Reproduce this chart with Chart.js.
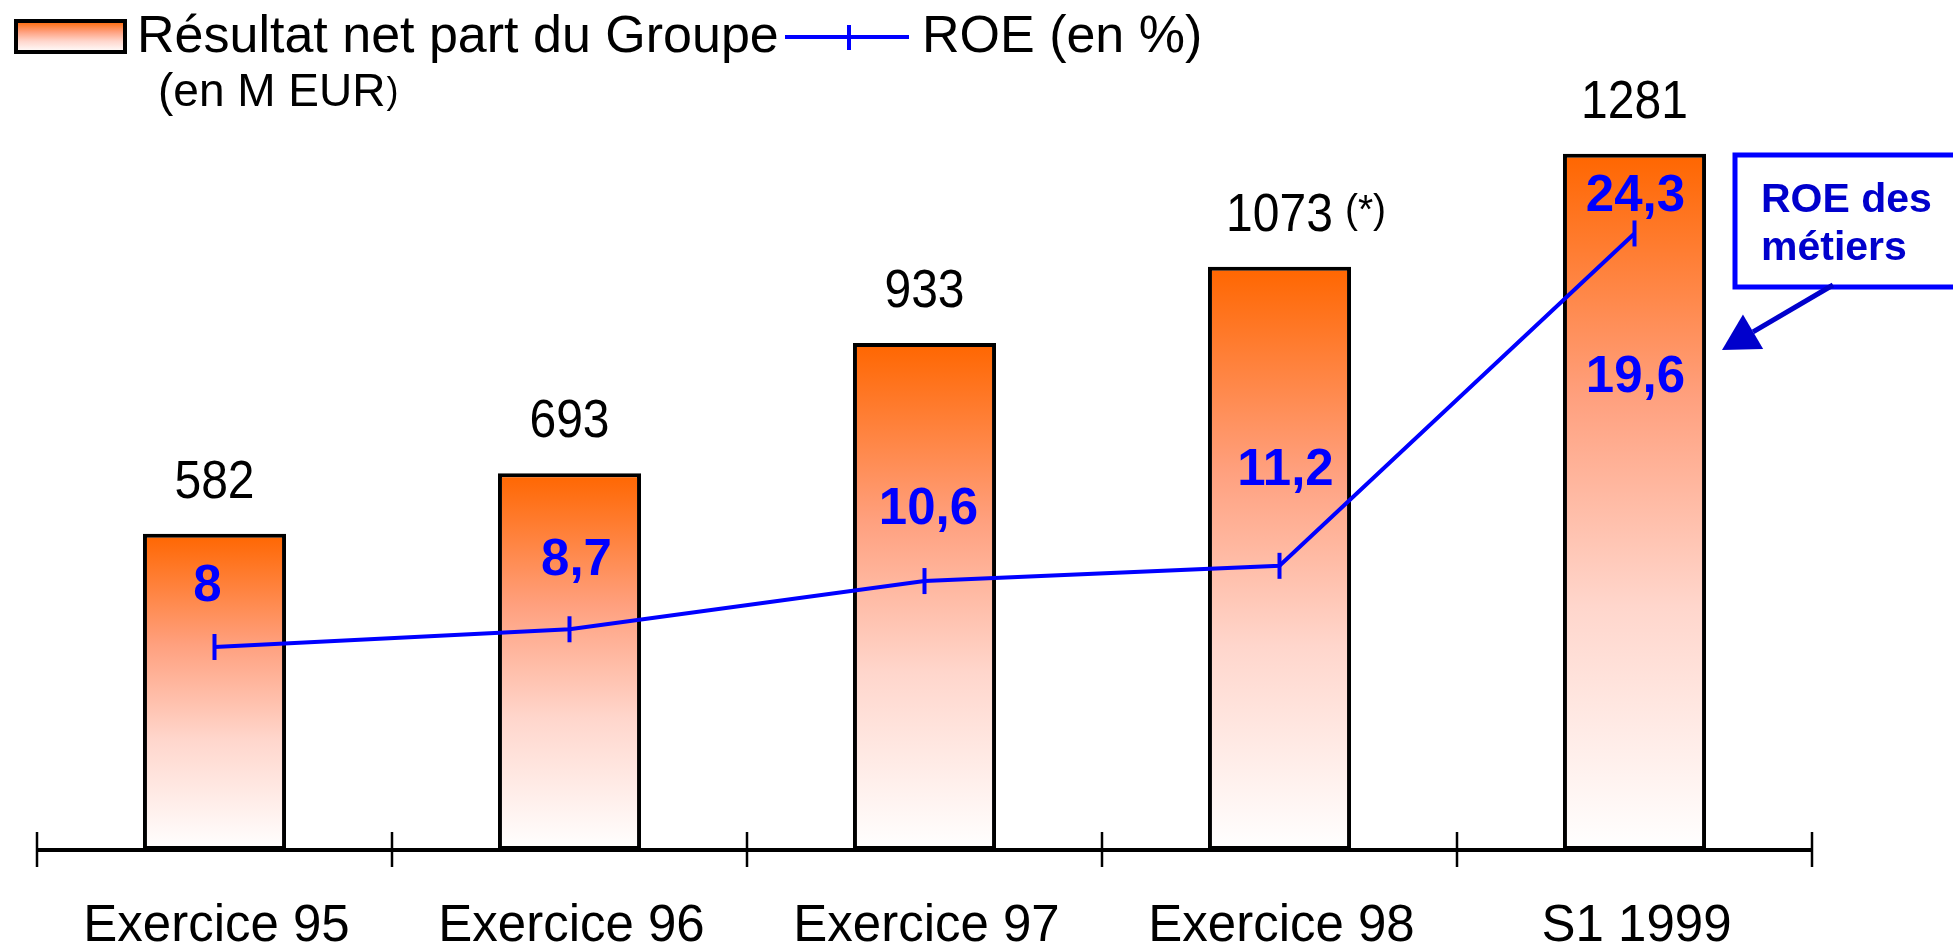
<!DOCTYPE html>
<html lang="fr">
<head>
<meta charset="utf-8">
<title>Résultat net part du Groupe et ROE</title>
<script src="https://cdn.jsdelivr.net/npm/chart.js@4.4.1/dist/chart.umd.min.js"></script>
<style>
    html, body { margin: 0; padding: 0; background: #fff; }
    #wrap { width: 1953px; height: 947px; }
</style>
</head>
<body>
<div id="wrap"><canvas id="chart" width="1953" height="947"></canvas></div>
<script>
// Data
const categories = ["Exercice 95", "Exercice 96", "Exercice 97", "Exercice 98", "S1 1999"];
const resultatNet = [582, 693, 933, 1073, 1281];   // M EUR
const roe = [8, 8.7, 10.6, 11.2, 24.3];              // %
const resultatNotes = ["", "", "", "(*)", ""];
const roeMetiers = 19.6;                             // ROE des métiers, S1 1999

// label placement around each ROE point (px)
const roeLabelShift = [[-7, -60], [7, -68], [4, -71], [6, -95], [1, -37]];

const FONT = "'Liberation Sans', Arial, sans-serif";
const BLUE = "#0000ff";
const DARK_BLUE = "#0000cc";

const fmt = v => String(v).replace(".", ",");

function fillGradient(ctx, top, bottom){
    const g = ctx.createLinearGradient(0, top, 0, bottom);
    g.addColorStop(0, "#ff6600");
    g.addColorStop(0.35, "#ffa07e");
    g.addColorStop(0.65, "#ffd6cc");
    g.addColorStop(1, "#ffffff");
    return g;
}

function barGradient(context){
    const chart = context.chart;
    if(!chart.chartArea || context.type !== "data") return "#ff9966";
    const y = chart.scales.y;
    return fillGradient(chart.ctx, y.getPixelForValue(resultatNet[context.dataIndex]), y.getPixelForValue(0));
}

// text a bit taller than wide, like the original
function tallText(ctx, txt, x, y, sy){
    ctx.save();
    ctx.translate(x, y);
    ctx.scale(1, sy);
    ctx.fillText(txt, 0, 0);
    ctx.restore();
}

// Axis, labels, legend and callout
const decorations = {
    id: "decorations",
    afterDatasetsDraw(chart){
        const ctx = chart.ctx;
        const xs = chart.scales.x;
        const ys = chart.scales.y;
        const y2 = chart.scales.y2;
        const base = ys.getPixelForValue(0);
        const half = (xs.getPixelForValue(1) - xs.getPixelForValue(0)) / 2;

        ctx.save();

        // x axis line and ticks
        ctx.strokeStyle = "#000";
        ctx.lineWidth = 4;
        ctx.beginPath();
        ctx.moveTo(xs.getPixelForValue(0) - half, base);
        ctx.lineTo(xs.getPixelForValue(categories.length - 1) + half, base);
        ctx.stroke();
        ctx.lineWidth = 2.5;
        for(let i = 0; i <= categories.length; i++){
            const x = xs.getPixelForValue(0) - half + i * 2 * half;
            ctx.beginPath();
            ctx.moveTo(x, base - 18);
            ctx.lineTo(x, base + 17);
            ctx.stroke();
        }

        // category labels
        ctx.fillStyle = "#000";
        ctx.font = "51px " + FONT;
        ctx.textAlign = "center";
        ctx.textBaseline = "alphabetic";
        categories.forEach((c, i) => tallText(ctx, c, xs.getPixelForValue(i) + 2, 941, 1.03));

        // bar values
        resultatNet.forEach((v, i) => {
            const x = xs.getPixelForValue(i);
            const yb = ys.getPixelForValue(v) - 36;
            ctx.font = "48px " + FONT;
            ctx.textAlign = "center";
            tallText(ctx, String(v), x, yb, 1.1);
            if(resultatNotes[i]){
                const w = ctx.measureText(String(v)).width;
                ctx.font = "39px " + FONT;
                ctx.textAlign = "left";
                tallText(ctx, resultatNotes[i], x + w / 2 + 12, yb - 8, 1.05);
            }
        });

        // ROE values
        ctx.fillStyle = BLUE;
        ctx.font = "bold 51px " + FONT;
        ctx.textAlign = "center";
        ctx.textBaseline = "middle";
        roe.forEach((v, i) => {
            const [dx, dy] = roeLabelShift[i];
            ctx.fillText(fmt(v), xs.getPixelForValue(i) + dx, y2.getPixelForValue(v) + dy);
        });
        const last = categories.length - 1;
        ctx.fillText(fmt(roeMetiers), xs.getPixelForValue(last) + 1, y2.getPixelForValue(roeMetiers) + 25);

        // legend
        ctx.textBaseline = "alphabetic";
        ctx.textAlign = "left";
        ctx.fillStyle = fillGradient(ctx, 21, 52);
        ctx.fillRect(16, 21, 109, 31);
        ctx.strokeStyle = "#000";
        ctx.lineWidth = 4;
        ctx.strokeRect(16, 21, 109, 31);
        ctx.fillStyle = "#000";
        ctx.font = "52px " + FONT;
        ctx.fillText("Résultat net part du Groupe", 137, 52);
        ctx.font = "46px " + FONT;
        ctx.fillText("(en M EUR", 158, 106);
        const wEur = ctx.measureText("(en M EUR").width;
        ctx.font = "36px " + FONT;
        ctx.fillText(")", 158 + wEur + 1, 103);

        ctx.strokeStyle = BLUE;
        ctx.lineWidth = 4;
        ctx.beginPath();
        ctx.moveTo(785, 37);
        ctx.lineTo(909, 37);
        ctx.moveTo(849, 25);
        ctx.lineTo(849, 50);
        ctx.stroke();
        ctx.font = "52px " + FONT;
        ctx.fillText("ROE (en %)", 922, 52);

        // callout "ROE des métiers"
        ctx.strokeStyle = BLUE;
        ctx.lineWidth = 5;
        ctx.strokeRect(1735, 155, 240, 132);
        ctx.fillStyle = DARK_BLUE;
        ctx.font = "bold 41px " + FONT;
        ctx.fillText("ROE des", 1761, 212);
        ctx.fillText("métiers", 1761, 260);

        const tip = [1722, 350];
        const from = [1833, 285];
        const ang = Math.atan2(tip[1] - from[1], tip[0] - from[0]);
        const len = 36, hw = 20;
        const bx = tip[0] - len * Math.cos(ang), by = tip[1] - len * Math.sin(ang);
        ctx.strokeStyle = DARK_BLUE;
        ctx.lineWidth = 5;
        ctx.beginPath();
        ctx.moveTo(from[0], from[1]);
        ctx.lineTo(bx, by);
        ctx.stroke();
        ctx.beginPath();
        ctx.moveTo(tip[0], tip[1]);
        ctx.lineTo(bx + hw * Math.sin(ang), by - hw * Math.cos(ang));
        ctx.lineTo(bx - hw * Math.sin(ang), by + hw * Math.cos(ang));
        ctx.closePath();
        ctx.fill();

        ctx.restore();
    }
};

new Chart(document.getElementById("chart"), {
    data: {
        labels: categories,
        datasets: [
            {
                type: "line",
                label: "ROE (en %)",
                data: roe,
                yAxisID: "y2",
                order: 0,
                borderColor: BLUE,
                borderWidth: 4,
                tension: 0,
                pointStyle: "line",
                pointRotation: 90,
                pointRadius: 13,
                pointBorderWidth: 4,
                pointBorderColor: BLUE,
                pointBackgroundColor: BLUE
            },
            {
                type: "bar",
                label: "Résultat net part du Groupe (en M EUR)",
                data: resultatNet,
                yAxisID: "y",
                order: 1,
                backgroundColor: barGradient,
                borderColor: "#000",
                borderWidth: 4,
                borderSkipped: false,
                categoryPercentage: 1,
                barPercentage: 0.403
            }
        ]
    },
    options: {
        responsive: false,
        animation: false,
        layout: { padding: { left: 37, right: 141, top: 100, bottom: 97 } },
        plugins: {
            legend: { display: false },
            tooltip: { enabled: false }
        },
        scales: {
            x: { display: false, offset: true },
            y: { display: false, min: 0, max: 1380 },
            y2: { display: false, min: 0, max: 29.56 }
        }
    },
    plugins: [decorations]
});
</script>
</body>
</html>
